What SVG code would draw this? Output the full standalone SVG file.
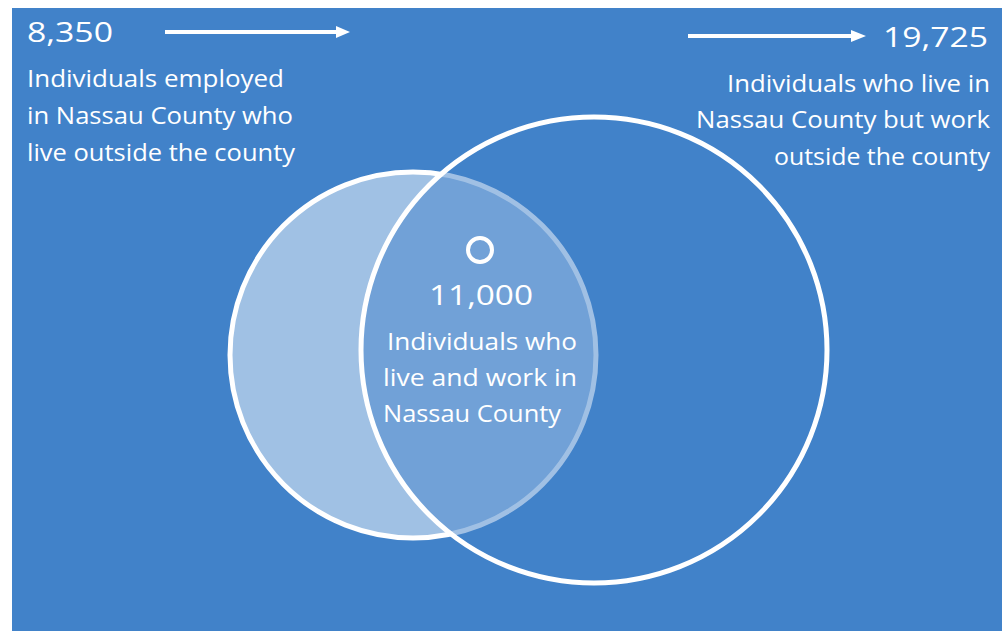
<svg xmlns="http://www.w3.org/2000/svg" width="1002" height="631" viewBox="0 0 1002 631">
<defs>
<style>
.t{font-family:"Century Gothic","Open Sans","DejaVu Sans",sans-serif;fill:#fff;font-size:24px}
.n{font-size:28px}
.r{text-anchor:end}
</style>
</defs>
<rect width="1002" height="631" fill="#fff"/>
<rect x="12" y="8" width="990" height="623" fill="#4182C9"/>
<g id="outside-workers">
<circle cx="413" cy="355" r="183" fill="#fff" fill-opacity="0.5" stroke="#fff" stroke-width="5"/>
</g>
<g id="residents">
<circle cx="594" cy="350" r="233" fill="#4182C9" fill-opacity="0.5" stroke="#fff" stroke-width="5"/>
</g>
<g id="ring">
<circle cx="480" cy="250" r="12" fill="none" stroke="#fff" stroke-width="4"/>
</g>
<g id="connectors" fill="#fff" stroke="#fff">
<line x1="165" y1="32" x2="337" y2="32" stroke-width="4"/>
<polygon points="336,26 350,32 336,38" stroke="none"/>
<line x1="688" y1="36" x2="852" y2="36" stroke-width="4"/>
<polygon points="851,30 866,36 851,42" stroke="none"/>
</g>
<g id="label-left">
<text class="t n" x="27" y="42" textLength="86" lengthAdjust="spacingAndGlyphs">8,350</text>
<text class="t" x="27" y="87" textLength="257" lengthAdjust="spacingAndGlyphs">Individuals employed</text>
<text class="t" x="27" y="124" textLength="266" lengthAdjust="spacingAndGlyphs">in Nassau County who</text>
<text class="t" x="27" y="161" textLength="268" lengthAdjust="spacingAndGlyphs">live outside the county</text>
</g>
<g id="label-right">
<text class="t n r" x="988" y="47" textLength="105" lengthAdjust="spacingAndGlyphs">19,725</text>
<text class="t r" x="990" y="92" textLength="263" lengthAdjust="spacingAndGlyphs">Individuals who live in</text>
<text class="t r" x="990" y="128" textLength="294" lengthAdjust="spacingAndGlyphs">Nassau County but work</text>
<text class="t r" x="990" y="165" textLength="216" lengthAdjust="spacingAndGlyphs">outside the county</text>
</g>
<g id="label-center">
<text class="t n" x="429" y="305" textLength="104" lengthAdjust="spacingAndGlyphs">11,000</text>
<text class="t" x="387" y="350" textLength="190" lengthAdjust="spacingAndGlyphs">Individuals  who</text>
<text class="t" x="383" y="386" textLength="194" lengthAdjust="spacingAndGlyphs">live and work in</text>
<text class="t" x="383" y="422" textLength="178" lengthAdjust="spacingAndGlyphs">Nassau County</text>
</g>
</svg>
